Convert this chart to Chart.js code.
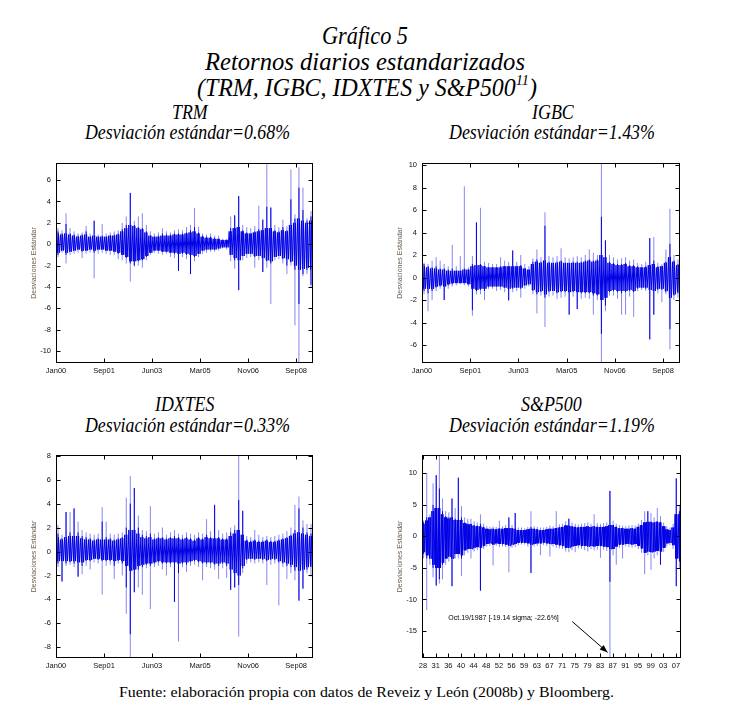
<!DOCTYPE html>
<html><head><meta charset="utf-8">
<script src="https://cdn.jsdelivr.net/npm/chart.js@4.4.1/dist/chart.umd.min.js"></script>
<style>
html,body{margin:0;padding:0;background:#fff;}
#page{position:relative;width:730px;height:719px;overflow:hidden;background:#fff;}
canvas{position:absolute;}
.t{position:absolute;white-space:nowrap;font-family:"Liberation Serif","Times New Roman",serif;line-height:1;color:#000;transform-origin:0 0;}
</style></head><body><div id="page"></div>
<script>
// ---------------- DATA ----------------
// per time bin: hi/lo = extreme (faint) spikes, spikeHi/spikeLo = dark spikes, bandHi/bandLo = dense core trace
const dateLabels = ['Jan00','Sep01','Jun03','Mar05','Nov06','Sep08'];
const spLabels = ['28','31','36','40','44','48','52','56','59','63','67','71','75','79','83','87','91','95','99','03','07'];

const trmTicks = [-10,-8,-6,-4,-2,0,2,4,6];
const trmHi = [1.5,1.3,2.9,1.5,1.2,1.0,1.1,1.7,1.0,2.2, 0.9,1.9,1.0,1.1,1.2,1.3,2.0,2.6,4.8,2.2, 2.6,2.9,1.8,1.2,1.0,1.1,1.5,1.2,1.1,1.3, 1.4,1.3,1.6,1.8,3.4,1.6,1.0,0.9,1.0,0.8, 0.8,0.5,0.5,2.6,2.7,4.5,1.8,1.6,1.5,1.7, 3.6,2.3,8.0,3.5,1.8,1.6,2.3,1.7,7.0,2.8, 7.2,5.3,2.4,3.1];
const trmLo = [-1.2,-0.8,-1.8,-1.0,-0.9,-0.8,-1.3,-0.9,-0.8,-3.2, -0.9,-0.8,-0.9,-1.0,-1.0,-1.4,-1.5,-1.8,-3.5,-2.1, -2.0,-2.2,-1.5,-1.0,-0.8,-0.9,-1.0,-0.9,-1.2,-1.3, -2.5,-1.2,-1.4,-2.8,-1.6,-1.2,-0.9,-0.8,-0.7,-0.7, -0.6,-0.4,-0.5,-1.6,-2.3,-4.3,-1.5,-1.3,-1.2,-2.2, -1.5,-2.6,-2.2,-5.6,-1.5,-1.4,-1.8,-2.8,-2.0,-7.6, -11.5,-3.0,-2.8,-4.0];
const trmSpikeHi = [1.2,1.0,1.9,1.0,0.9,0.8,0.9,1.2,0.7,2.2, 0.7,0.8,0.7,0.8,0.9,1.0,1.4,1.8,4.8,1.8, 1.6,1.5,1.2,0.8,0.7,0.8,1.0,0.9,0.9,1.0, 1.0,1.0,1.1,1.3,1.6,1.1,0.8,0.7,0.7,0.6, 0.5,0.4,0.4,1.5,2.7,4.5,1.3,1.1,1.0,1.2, 1.4,2.3,3.5,3.4,1.3,1.2,1.6,1.3,4.2,2.4, 5.3,3.2,2.2,2.6];
const trmSpikeLo = [-1.0,-0.6,-1.0,-0.7,-0.6,-0.5,-0.7,-0.6,-0.5,-0.8, -0.5,-0.5,-0.6,-0.6,-0.7,-0.9,-1.0,-1.3,-1.8,-2.0, -1.6,-1.5,-1.2,-0.8,-0.6,-0.6,-0.7,-0.7,-0.8,-0.9, -2.5,-0.9,-1.0,-2.8,-1.2,-0.9,-0.6,-0.5,-0.5,-0.5, -0.4,-0.3,-0.3,-1.0,-1.5,-4.3,-1.1,-0.9,-0.9,-1.2, -1.1,-2.6,-1.6,-1.8,-1.2,-1.1,-1.4,-2.0,-1.7,-2.4, -5.6,-2.8,-2.4,-3.8];
const trmBandHi = [1.0,0.9,1.0,0.9,0.8,0.7,0.8,0.9,0.7,0.8, 0.7,0.7,0.7,0.8,0.8,0.9,1.2,1.5,1.8,1.7, 1.5,1.4,1.1,0.8,0.7,0.7,0.8,0.8,0.8,0.9, 0.9,0.9,1.0,1.1,1.2,1.0,0.7,0.6,0.6,0.5, 0.5,0.4,0.4,1.2,1.5,1.6,1.2,1.0,1.0,1.1, 1.2,1.3,1.5,1.5,1.2,1.1,1.3,1.2,1.8,2.0, 2.4,2.2,2.0,2.2];
const trmBandLo = [-0.8,-0.6,-0.8,-0.7,-0.6,-0.5,-0.6,-0.6,-0.5,-0.6, -0.5,-0.5,-0.6,-0.6,-0.7,-0.8,-1.0,-1.2,-1.6,-1.6, -1.5,-1.4,-1.1,-0.8,-0.6,-0.6,-0.7,-0.7,-0.8,-0.8, -0.9,-0.8,-0.9,-1.0,-1.1,-0.9,-0.6,-0.5,-0.5,-0.5, -0.4,-0.3,-0.3,-1.0,-1.3,-1.5,-1.1,-0.9,-0.9,-1.1, -1.1,-1.3,-1.5,-1.6,-1.2,-1.1,-1.3,-1.4,-1.6,-2.0, -2.4,-2.3,-2.2,-2.4];

const igbcTicks = [-6,-4,-2,0,2,4,6,8,10];
const igbcHi = [1.3,1.2,1.5,1.8,1.5,1.2,1.0,2.9,1.0,1.9, 8.1,0.9,1.9,4.9,6.2,1.4,1.3,1.2,1.2,1.8, 1.5,1.4,2.4,1.4,2.0,1.2,1.0,1.7,2.5,1.8, 5.8,1.9,1.8,1.9,2.6,1.8,1.7,1.8,1.9,1.8, 2.0,2.5,2.2,2.0,10.5,3.3,2.0,1.8,1.6,1.7, 1.8,1.5,1.6,1.3,1.2,1.4,3.5,3.6,1.3,1.2, 2.5,6.1,2.0,1.6];
const igbcLo = [-1.5,-3.0,-2.0,-1.2,-1.0,-2.0,-1.0,-0.8,-0.7,-0.6, -0.7,-0.8,-3.4,-1.5,-1.5,-2.0,-1.0,-1.0,-1.2,-1.1, -1.3,-2.1,-1.3,-1.2,-1.8,-1.0,-0.8,-1.5,-3.2,-1.6, -4.4,-1.7,-1.6,-1.9,-1.8,-1.7,-3.3,-1.7,-2.8,-1.9, -1.8,-1.9,-3.3,-2.0,-8.0,-3.0,-1.6,-1.6,-1.9,-3.3, -3.3,-1.7,-3.5,-1.2,-1.1,-1.2,-5.5,-3.3,-1.4,-2.2, -1.5,-6.4,-2.0,-1.8];
const igbcSpikeHi = [1.2,1.0,0.9,1.0,0.8,0.8,0.7,0.8,0.6,0.6, 0.8,0.7,1.2,4.9,1.2,1.0,0.9,0.9,0.9,1.0, 1.0,1.0,2.4,1.0,1.1,0.8,0.7,1.4,1.6,1.4, 4.6,1.4,1.3,1.4,1.5,1.3,1.3,1.4,1.4,1.4, 1.5,1.6,1.5,1.6,5.4,3.3,1.4,1.3,1.2,1.2, 1.3,1.1,1.1,1.0,0.9,1.0,3.5,1.5,1.0,1.0, 1.4,3.0,1.5,1.2];
const igbcSpikeLo = [-1.2,-1.4,-1.2,-0.9,-0.8,-2.0,-0.7,-0.6,-0.5,-0.5, -0.5,-0.6,-2.9,-1.2,-1.1,-1.2,-0.8,-0.8,-0.8,-0.8, -0.9,-2.0,-1.0,-0.9,-1.0,-0.7,-0.6,-1.2,-1.5,-1.3, -1.8,-1.3,-1.2,-1.4,-1.3,-1.3,-3.3,-1.3,-2.8,-1.4, -1.4,-1.4,-1.6,-1.6,-5.0,-2.5,-1.3,-1.2,-1.3,-1.4, -1.3,-1.2,-1.3,-1.0,-0.9,-1.0,-5.5,-3.3,-1.1,-1.1, -1.3,-4.6,-1.6,-1.4];
const igbcBandHi = [1.0,0.9,0.8,0.8,0.7,0.7,0.6,0.6,0.6,0.6, 0.7,0.7,1.0,1.1,1.1,1.0,0.9,0.9,0.9,0.9, 1.0,1.0,1.0,1.0,1.0,0.8,0.7,1.2,1.4,1.3, 1.5,1.3,1.3,1.3,1.4,1.3,1.3,1.3,1.3,1.3, 1.4,1.5,1.4,1.5,2.0,1.8,1.3,1.2,1.1,1.1, 1.2,1.0,1.0,0.9,0.9,0.9,1.1,1.2,0.9,1.0, 1.3,1.8,1.4,1.1];
const igbcBandLo = [-1.0,-1.0,-1.0,-0.8,-0.7,-0.8,-0.6,-0.5,-0.5,-0.5, -0.5,-0.6,-1.0,-1.1,-1.0,-1.0,-0.8,-0.8,-0.8,-0.8, -0.9,-1.0,-0.9,-0.9,-0.9,-0.7,-0.6,-1.1,-1.3,-1.2, -1.5,-1.2,-1.2,-1.3,-1.2,-1.2,-1.3,-1.2,-1.3,-1.3, -1.3,-1.3,-1.4,-1.5,-2.0,-1.8,-1.2,-1.1,-1.2,-1.2, -1.2,-1.1,-1.2,-0.9,-0.9,-0.9,-1.1,-1.2,-1.0,-1.0, -1.2,-1.8,-1.5,-1.3];

const idxTicks = [-8,-6,-4,-2,0,2,4,6,8];
const idxHi = [2.2,1.4,3.3,3.3,3.6,2.5,1.8,1.6,1.5,1.4, 1.5,3.7,2.5,1.5,1.4,1.5,1.6,4.5,6.3,5.3, 3.0,1.8,1.7,3.8,1.5,1.6,2.0,1.4,1.6,1.8, 1.5,1.4,1.6,1.5,1.4,1.6,1.5,2.7,1.7,3.9, 1.8,1.5,1.6,2.0,2.2,8.5,3.4,1.3,1.2,1.8, 1.4,1.2,1.3,1.2,1.3,1.4,1.5,1.7,2.0,3.9, 4.6,2.6,2.3,2.3];
const idxLo = [-1.3,-2.5,-1.2,-1.1,-1.3,-2.1,-1.9,-1.2,-1.5,-0.9, -1.0,-3.6,-1.2,-1.1,-2.3,-1.0,-2.0,-5.2,-9.5,-3.4, -3.0,-3.6,-1.4,-4.8,-1.3,-1.2,-1.5,-2.0,-1.3,-4.2, -7.5,-1.3,-1.7,-1.2,-1.1,-1.3,-2.4,-1.3,-1.4,-1.5, -2.3,-1.4,-2.2,-3.2,-3.0,-7.1,-1.8,-1.0,-0.9,-1.0, -0.9,-1.0,-2.8,-1.1,-1.0,-4.5,-1.3,-2.3,-1.8,-2.4, -4.1,-3.1,-1.8,-2.1];
const idxSpikeHi = [1.5,1.1,3.3,1.6,3.6,1.6,1.3,1.2,1.1,1.0, 1.1,2.5,1.2,1.1,1.0,1.1,1.2,2.0,4.0,5.3, 2.0,1.4,1.3,1.5,1.1,1.2,1.2,1.1,1.2,1.3, 1.2,1.1,1.2,1.1,1.0,1.2,1.1,1.4,1.2,3.9, 1.2,1.1,1.1,1.6,1.8,4.3,3.4,1.0,0.9,1.0, 0.9,0.9,1.0,0.9,0.9,1.0,1.1,1.2,1.4,1.8, 3.6,2.0,1.6,1.5];
const idxSpikeLo = [-1.0,-2.5,-1.0,-0.9,-1.0,-2.1,-1.2,-0.8,-0.8,-0.6, -0.7,-0.8,-0.8,-0.8,-1.2,-0.8,-1.0,-3.0,-6.9,-3.4, -1.5,-1.3,-1.1,-1.2,-1.0,-0.9,-1.0,-1.0,-1.0,-4.2, -1.8,-1.0,-1.1,-0.9,-0.8,-0.9,-1.0,-1.0,-1.0,-1.1, -1.2,-1.0,-1.2,-3.2,-3.0,-2.8,-1.4,-0.7,-0.6,-0.7, -0.6,-0.7,-0.8,-0.7,-0.7,-0.9,-1.0,-1.2,-1.3,-1.6, -4.1,-3.1,-1.5,-1.3];
const idxBandHi = [1.2,1.0,1.2,1.3,1.3,1.3,1.1,1.0,1.0,0.9, 1.0,1.0,1.0,1.0,0.9,1.0,1.1,1.4,1.8,1.8, 1.5,1.2,1.1,1.2,1.0,1.1,1.1,1.0,1.1,1.1, 1.1,1.0,1.1,1.0,0.9,1.1,1.0,1.2,1.1,1.1, 1.1,1.0,1.0,1.3,1.5,1.8,1.4,0.9,0.8,0.9, 0.8,0.8,0.9,0.8,0.8,0.9,1.0,1.1,1.3,1.5, 1.6,1.5,1.4,1.3];
const idxBandLo = [-0.8,-0.8,-0.8,-0.8,-0.8,-0.9,-0.9,-0.7,-0.7,-0.6, -0.6,-0.7,-0.7,-0.7,-0.8,-0.7,-0.8,-1.2,-1.6,-1.5, -1.2,-1.1,-1.0,-1.0,-0.9,-0.8,-0.9,-0.9,-0.9,-0.9, -1.0,-0.9,-0.9,-0.8,-0.7,-0.8,-0.9,-0.9,-0.9,-1.0, -1.0,-0.9,-1.0,-1.5,-1.8,-2.0,-1.2,-0.6,-0.6,-0.6, -0.6,-0.6,-0.7,-0.6,-0.6,-0.8,-0.9,-1.0,-1.1,-1.3, -1.6,-1.5,-1.3,-1.2];

const spTicks = [-15,-10,-5,0,5,10];
const spHi = [2.5,10.0,3.5,8.4,9.7,13.5,6.0,4.0,3.8,6.0, 4.5,9.3,4.8,3.0,2.8,2.8,2.4,2.2,3.5,2.0, 1.6,1.5,1.6,1.5,2.5,1.6,1.8,3.0,1.8,3.7, 1.4,1.4,1.3,1.5,4.0,1.6,1.5,1.4,1.4,1.5, 1.7,1.6,4.0,1.9,2.0,2.4,2.8,2.2,2.0,1.9, 2.0,2.1,2.2,2.0,3.5,2.1,2.0,2.1,2.2,7.2, 2.5,2.0,1.8,1.7,1.6,1.7,1.8,1.7,2.0,2.6, 4.0,4.0,3.7,3.0,4.5,3.2,2.2,1.6,1.4,2.0, 9.2,5.0];
const spLo = [-3.5,-11.7,-4.5,-6.5,-7.8,-7.5,-6.8,-4.5,-4.0,-7.9, -3.5,-3.5,-6.3,-3.0,-2.6,-3.5,-2.4,-2.2,-8.6,-2.0, -1.6,-1.5,-4.6,-1.5,-1.7,-1.6,-1.7,-5.7,-1.8,-1.7, -1.4,-1.3,-1.3,-1.6,-5.8,-1.6,-1.5,-3.0,-1.4,-1.5, -3.2,-1.6,-1.8,-1.9,-2.0,-2.4,-2.5,-2.2,-2.5,-1.9, -2.0,-2.2,-2.4,-2.0,-2.2,-2.1,-3.4,-2.1,-2.3,-20.0, -3.0,-4.5,-1.8,-3.5,-1.6,-1.7,-1.8,-1.7,-2.0,-2.6, -6.0,-3.0,-5.3,-3.5,-3.0,-4.5,-2.5,-1.6,-1.4,-2.0, -7.9,-5.0];
const spSpikeHi = [2.2,3.0,3.0,5.0,9.7,7.6,4.0,3.2,3.0,6.0, 2.8,9.3,3.0,2.2,2.0,2.0,1.8,1.7,2.0,1.5, 1.2,1.1,1.2,1.1,1.3,1.2,1.3,3.0,1.3,3.7, 1.0,1.0,1.0,1.1,1.5,1.2,1.1,1.0,1.0,1.1, 1.2,1.2,1.3,1.4,1.5,1.8,2.8,1.6,1.5,1.4, 1.5,1.5,1.6,1.5,1.6,1.5,1.5,1.5,1.6,7.2, 1.8,1.5,1.3,1.3,1.2,1.2,1.3,1.2,1.5,1.8, 2.2,4.0,2.3,2.2,2.4,2.3,1.6,1.1,1.0,1.4, 9.2,4.0];
const spSpikeLo = [-2.8,-3.5,-3.5,-5.0,-7.8,-6.8,-4.5,-3.5,-3.2,-7.9, -2.8,-2.8,-3.5,-2.2,-2.0,-2.0,-1.8,-1.7,-8.6,-1.5, -1.2,-1.1,-1.3,-1.1,-1.2,-1.2,-1.3,-1.5,-1.3,-1.2, -1.0,-1.0,-1.0,-1.1,-5.8,-1.2,-1.1,-1.1,-1.0,-1.1, -1.2,-1.2,-1.3,-1.4,-1.5,-1.8,-1.8,-1.6,-1.5,-1.4, -1.5,-1.5,-1.6,-1.5,-1.6,-1.5,-1.5,-1.6,-1.7,-7.2, -2.0,-1.6,-1.3,-1.3,-1.2,-1.2,-1.3,-1.2,-1.5,-1.9, -2.6,-2.4,-2.5,-2.4,-2.3,-4.5,-1.8,-1.1,-1.0,-1.4, -7.9,-4.0];
const spBandHi = [2.0,2.5,3.0,4.0,4.5,4.5,3.5,3.0,2.8,3.0, 2.6,2.6,2.6,2.1,1.9,1.9,1.7,1.6,1.6,1.4, 1.2,1.1,1.2,1.1,1.2,1.2,1.3,1.3,1.3,1.2, 1.0,1.0,1.0,1.1,1.2,1.2,1.1,1.0,1.0,1.1, 1.2,1.2,1.3,1.4,1.5,1.7,1.7,1.6,1.5,1.4, 1.5,1.5,1.6,1.5,1.6,1.5,1.5,1.5,1.6,1.8, 1.8,1.5,1.3,1.3,1.2,1.2,1.3,1.2,1.5,1.8, 2.2,2.3,2.3,2.2,2.3,2.2,1.6,1.1,1.0,1.4, 3.5,3.5];
const spBandLo = [-2.5,-3.0,-3.5,-4.5,-5.0,-5.0,-4.2,-3.5,-3.2,-3.5, -2.8,-2.8,-3.0,-2.2,-2.0,-2.0,-1.8,-1.7,-1.8,-1.5, -1.2,-1.1,-1.3,-1.1,-1.2,-1.2,-1.3,-1.5,-1.3,-1.2, -1.0,-1.0,-1.0,-1.1,-1.3,-1.2,-1.1,-1.1,-1.0,-1.1, -1.2,-1.2,-1.3,-1.4,-1.5,-1.8,-1.8,-1.6,-1.5,-1.4, -1.5,-1.5,-1.6,-1.5,-1.6,-1.5,-1.5,-1.6,-1.7,-2.0, -2.0,-1.6,-1.3,-1.3,-1.2,-1.2,-1.3,-1.2,-1.5,-1.9, -2.6,-2.4,-2.5,-2.4,-2.3,-2.4,-1.8,-1.1,-1.0,-1.4, -3.5,-3.5];

// ---------------- LAYOUT ----------------
const page = document.getElementById('page');
const PADL = 46, PADT = 10, PADR = 8, PADB = 20;

// one thin vertical stroke per bin, from lo to hi (separated by gaps)
function strokes(hi, lo, x0, w) {
  const pts = [];
  for (let i = 0; i < hi.length; i++) {
    const x = x0 + (i + 0.5) * w;
    pts.push({x, y: lo[i]}); pts.push({x, y: hi[i]}); pts.push({x, y: null});
  }
  return pts;
}
// dense trace: the bin's range is swept k times so the band reads as a solid trace
function sweep(hi, lo, x0, w, k) {
  const pts = [];
  for (let i = 0; i < hi.length; i++) {
    for (let j = 0; j < k; j++) {
      const n = i * k + j;
      pts.push({x: x0 + (i + (j + 0.5) / k) * w, y: n % 2 === 0 ? hi[i] : lo[i]});
    }
  }
  return pts;
}

const boxPlugin = {
  id: 'box',
  afterDraw(chart) {
    const {ctx, chartArea: a, scales: {x, y}} = chart;
    ctx.save();
    ctx.strokeStyle = '#000'; ctx.lineWidth = 1;
    const L = Math.round(a.left) + 0.5, R = Math.round(a.right) - 0.5;
    const T = Math.round(a.top) + 0.5, B = Math.round(a.bottom) - 0.5;
    ctx.strokeRect(L, T, R - L, B - T);
    ctx.beginPath();
    x.ticks.forEach(t => {
      const px = Math.round(x.getPixelForValue(t.value)) + 0.5;
      ctx.moveTo(px, B); ctx.lineTo(px, B - 4);
      ctx.moveTo(px, T); ctx.lineTo(px, T + 4);
    });
    y.ticks.forEach(t => {
      const py = Math.round(y.getPixelForValue(t.value)) + 0.5;
      ctx.moveTo(L, py); ctx.lineTo(L + 4, py);
      ctx.moveTo(R, py); ctx.lineTo(R - 4, py);
    });
    ctx.stroke();
    const n = chart.options.plugins.note;
    if (n && n.text) {
      ctx.fillStyle = '#000';
      ctx.font = '7px "Liberation Sans", Arial, sans-serif';
      ctx.textAlign = 'left'; ctx.textBaseline = 'middle';
      ctx.fillText(n.text, x.getPixelForValue(n.at[0]), y.getPixelForValue(n.at[1]));
      const x1 = x.getPixelForValue(n.from[0]), y1 = y.getPixelForValue(n.from[1]);
      const x2 = x.getPixelForValue(n.to[0]), y2 = y.getPixelForValue(n.to[1]);
      ctx.beginPath(); ctx.moveTo(x1, y1); ctx.lineTo(x2, y2); ctx.stroke();
      const ang = Math.atan2(y2 - y1, x2 - x1), hl = 8, hw = 3;
      ctx.beginPath();
      ctx.moveTo(x2, y2);
      ctx.lineTo(x2 - hl * Math.cos(ang) + hw * Math.sin(ang), y2 - hl * Math.sin(ang) - hw * Math.cos(ang));
      ctx.lineTo(x2 - hl * Math.cos(ang) - hw * Math.sin(ang), y2 - hl * Math.sin(ang) + hw * Math.cos(ang));
      ctx.closePath(); ctx.fill();
    }
    ctx.restore();
  }
};

function makePanel(p) {
  const c = document.createElement('canvas');
  const W = p.r - p.l + PADL + PADR, H = p.b - p.t + PADT + PADB;
  c.width = W; c.height = H;
  c.style.left = (p.l - PADL) + 'px'; c.style.top = (p.t - PADT) + 'px';
  c.style.width = W + 'px'; c.style.height = H + 'px';
  page.appendChild(c);
  const w = (p.xmax - p.xmin) / p.hi.length;
  const tickFont = {family: '"Liberation Sans", Arial, sans-serif', size: 7.5};
  const common = {pointRadius: 0, tension: 0, clip: 0, spanGaps: false, borderWidth: 1};
  new Chart(c, {
    type: 'line',
    data: {datasets: [
      Object.assign({data: strokes(p.hi, p.lo, p.xmin, w), borderColor: 'rgb(135,135,245)', order: 3}, common),
      Object.assign({data: sweep(p.bHi, p.bLo, p.xmin, w, 4), borderColor: 'rgb(0,0,230)', order: 2}, common),
      Object.assign({data: strokes(p.sHi, p.sLo, p.xmin, w), borderColor: 'rgb(0,0,230)', order: 1}, common)
    ]},
    options: {
      responsive: false, animation: false, devicePixelRatio: 1,
      layout: {padding: {left: 0, top: PADT, right: PADR, bottom: 0}},
      plugins: {legend: {display: false}, tooltip: {enabled: false}, note: p.note || {}},
      scales: {
        x: {type: 'linear', min: p.xmin, max: p.xmax,
            grid: {display: false, drawTicks: false, tickLength: 0}, border: {display: false},
            afterBuildTicks: s => { s.ticks = p.xLabels.map((_, i) => ({value: i})); },
            afterFit: s => { s.height = PADB; },
            ticks: {autoSkip: false, maxRotation: 0, minRotation: 0, padding: 3, font: tickFont, color: '#111',
                    callback: v => p.xLabels[Math.round(v)]}},
        y: {min: p.ymin, max: p.ymax,
            grid: {display: false, drawTicks: false, tickLength: 0}, border: {display: false},
            afterBuildTicks: s => { s.ticks = p.yTicks.map(v => ({value: v})); },
            afterFit: s => { s.width = PADL; },
            ticks: {padding: 5, font: tickFont, color: '#111', callback: v => String(v)},
            title: {display: true, text: 'Desviaciones Estándar', color: '#6a5a4a',
                    font: {family: '"Liberation Sans", Arial, sans-serif', size: 7}, padding: {top: 20, bottom: 0}}}
      }
    },
    plugins: [boxPlugin]
  });
}

makePanel({l: 56, r: 313, t: 163, b: 363, xmin: 0, xmax: 5.35, ymin: -11.12, ymax: 7.6,
  xLabels: dateLabels, yTicks: trmTicks, hi: trmHi, lo: trmLo, sHi: trmSpikeHi, sLo: trmSpikeLo, bHi: trmBandHi, bLo: trmBandLo});
makePanel({l: 422, r: 680, t: 163, b: 363, xmin: 0, xmax: 5.35, ymin: -7.6, ymax: 10.18,
  xLabels: dateLabels, yTicks: igbcTicks, hi: igbcHi, lo: igbcLo, sHi: igbcSpikeHi, sLo: igbcSpikeLo, bHi: igbcBandHi, bLo: igbcBandLo});
makePanel({l: 56, r: 313, t: 455, b: 658, xmin: 0, xmax: 5.35, ymin: -8.89, ymax: 8.06,
  xLabels: dateLabels, yTicks: idxTicks, hi: idxHi, lo: idxLo, sHi: idxSpikeHi, sLo: idxSpikeLo, bHi: idxBandHi, bLo: idxBandLo});
makePanel({l: 422, r: 681, t: 455, b: 658, xmin: -0.08, xmax: 20.4, ymin: -19.28, ymax: 12.9,
  xLabels: spLabels, yTicks: spTicks, hi: spHi, lo: spLo, sHi: spSpikeHi, sLo: spSpikeLo, bHi: spBandHi, bLo: spBandLo,
  note: {text: 'Oct.19/1987 [-19.14 sigma; -22.6%]', at: [2.0, -12.95], from: [11.8, -13.5], to: [14.6, -18.4]}});

// ---------------- TEXT ----------------
function addText(html, cx, baseline, size, width, italic, scale) {
  const d = document.createElement('div');
  d.className = 't';
  d.style.fontSize = size + 'px';
  d.style.fontStyle = italic ? 'italic' : 'normal';
  d.innerHTML = html;
  page.appendChild(d);
  const w0 = d.getBoundingClientRect().width;
  const s = width ? width / w0 : scale;
  d.style.left = (cx - w0 * s / 2) + 'px';
  d.style.top = (baseline - 0.8375 * size) + 'px';
  d.style.transform = 'scaleX(' + s + ')';
  return s;
}
const sup = '<span style="font-size:0.6em;position:relative;top:-0.75em">11</span>';
addText('Gráfico 5', 365, 43.5, 25, 86, true);
addText('Retornos diarios estandarizados', 365, 70, 25, 320, true);
addText('(TRM, IGBC, IDXTES y S&amp;P500' + sup + ')', 367, 96, 25, 340, true);
let s1 = addText('Desviación estándar=0.68%', 187, 138.5, 20, 205, true);
addText('TRM', 190, 119, 20, null, true, s1);
let s2 = addText('Desviación estándar=1.43%', 552, 138.5, 20, 206, true);
addText('IGBC', 553, 119, 20, null, true, s2);
let s3 = addText('Desviación estándar=0.33%', 187, 431.5, 20, 205, true);
addText('IDXTES', 185, 411, 20, null, true, s3);
let s4 = addText('Desviación estándar=1.19%', 552, 431.5, 20, 206, true);
addText('S&amp;P500', 551, 411, 20, null, true, s4);
addText('Fuente: elaboración propia con datos de Reveiz y León (2008b) y Bloomberg.', 366, 698, 14, 495, false);
</script>
</body></html>
